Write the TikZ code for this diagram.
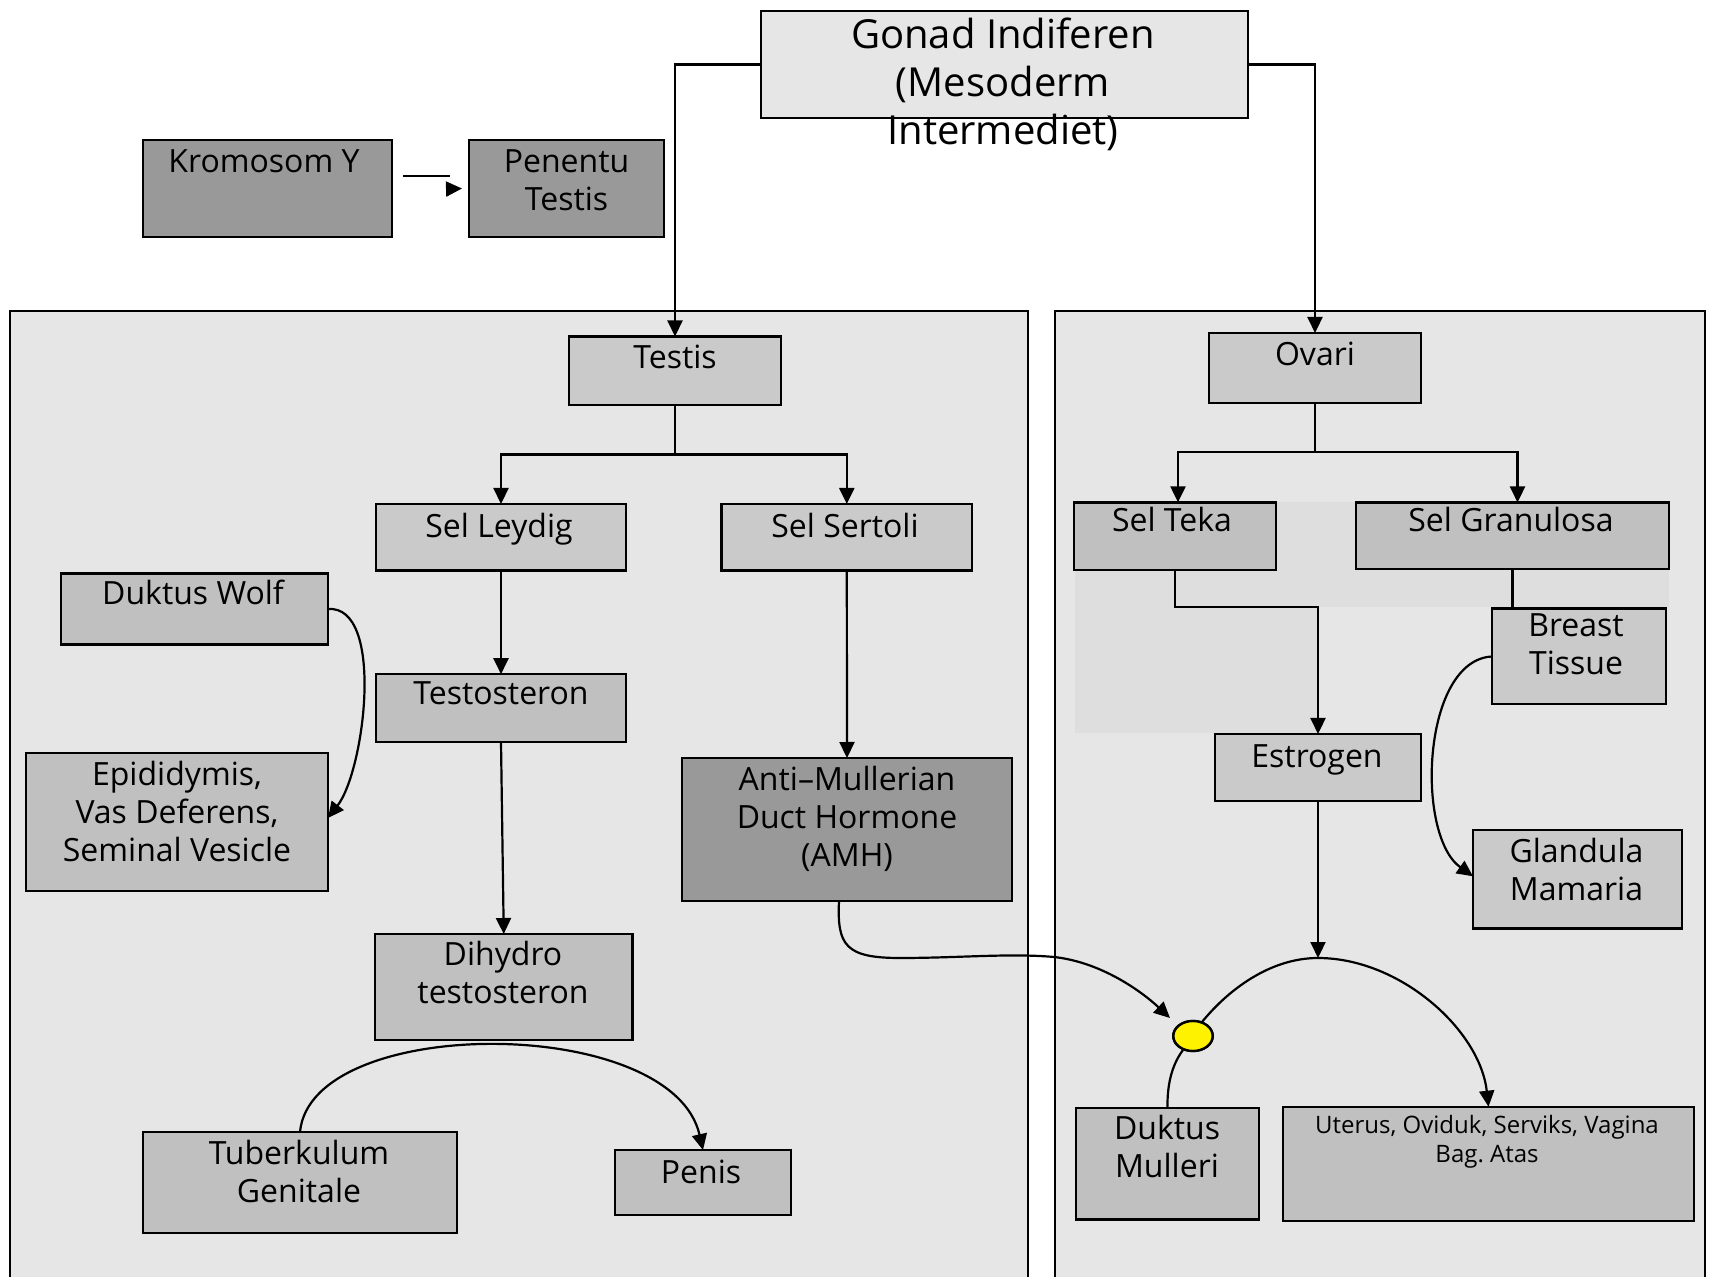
\documentclass[tikz,border=0pt]{standalone}
\usepackage{fontspec}
\setmainfont{Open Sans}
\usetikzlibrary{arrows.meta,shapes.geometric}
\definecolor{panelgray}{HTML}{E6E6E6}
\definecolor{zonegray}{HTML}{DEDEDE}
\definecolor{boxdark}{HTML}{999999}
\definecolor{boxlight}{HTML}{CACACA}
\definecolor{boxmid}{HTML}{C0C0C0}
\begin{document}
\frenchspacing
\begin{tikzpicture}[x=0.5pt,y=-0.5pt,
  conn/.style={draw=black, line width=1.1pt},
  arr/.style={conn, -{Triangle[length=8pt,width=7.5pt]}},
  box/.style={draw=black, line width=1.2pt, rectangle, inner sep=0pt, outer sep=0pt},
  panel/.style={draw=black, line width=1.1pt, fill=panelgray},
  lbl/.style={anchor=north, inner sep=0pt, align=center, font=\fontsize{16}{19}\selectfont},
  biglbl/.style={lbl, font=\fontsize{20}{24}\selectfont},
  smalllbl/.style={lbl, font=\fontsize{12}{14.5}\selectfont}
]
\useasboundingbox (0,0) rectangle (1713,1277);
\clip (0,0) rectangle (1713,1277);
\fill[white] (0,0) rectangle (1713,1277);

% the two development panels
\draw[panel] (10,311) rectangle (1028,1300);
\draw[panel] (1055,311) rectangle (1705,1300);
% cell zone behind the ovarian cells
\fill[zonegray] (1075,502) rectangle (1669,607);
\fill[zonegray] (1075,607) rectangle (1318,733);

% boxes
\node[box, fill=panelgray, minimum width=243.5pt, minimum height=53.5pt] (gonad) at (1004.5,64.5) {};
\node[box, fill=boxdark, minimum width=124.5pt, minimum height=48.5pt] (krom) at (267.5,188.5) {};
\node[box, fill=boxdark, minimum width=97.5pt, minimum height=48.5pt] (pen) at (566.5,188.5) {};

\node[box, fill=boxlight, minimum width=106pt, minimum height=34.25pt] (testis) at (675,370.75) {};
\node[box, fill=boxlight, minimum width=125pt, minimum height=33.3pt] (leydig) at (501,537.3) {};
\node[box, fill=boxlight, minimum width=125.2pt, minimum height=33.3pt] (sertoli) at (846.8,537.3) {};
\node[box, fill=boxmid, minimum width=125pt, minimum height=34pt] (testos) at (501,708.2) {};
\node[box, fill=boxmid, minimum width=128.75pt, minimum height=53pt] (dihydro) at (503.75,987) {};
\node[box, fill=boxdark, minimum width=165pt, minimum height=71.5pt] (amh) at (847,829.5) {};
\node[box, fill=boxmid, minimum width=133.5pt, minimum height=35.5pt] (wolf) at (194.5,609) {};
\node[box, fill=boxmid, minimum width=151pt, minimum height=69.25pt] (epid) at (177,822) {};
\node[box, fill=boxmid, minimum width=157pt, minimum height=50.5pt] (tuberk) at (300,1182.5) {};
\node[box, fill=boxmid, minimum width=88pt, minimum height=32.5pt] (penis) at (703,1182.5) {};

\node[box, fill=boxlight, minimum width=106pt, minimum height=35pt] (ovari) at (1315,368) {};
\node[box, fill=boxmid, minimum width=101pt, minimum height=33.85pt] (teka) at (1175,536.2) {};
\node[box, fill=boxmid, minimum width=156.5pt, minimum height=33.25pt] (gran) at (1512.5,535.75) {};
\node[box, fill=boxlight, minimum width=87pt, minimum height=47.8pt] (breast) at (1579,656.5) {};
\node[box, fill=boxlight, minimum width=103pt, minimum height=33.5pt] (estrogen) at (1318,767.5) {};
\node[box, fill=boxlight, minimum width=104.5pt, minimum height=49.3pt] (glandula) at (1577.5,879.3) {};
\node[box, fill=boxmid, minimum width=91.5pt, minimum height=55.8pt] (mulleri) at (1167.5,1163.5) {};
\node[box, fill=boxmid, minimum width=205.5pt, minimum height=57pt] (uterus) at (1488.5,1163.7) {};

\node[draw=black, line width=1.2pt, fill=yellow, ellipse, inner sep=0pt,
      minimum width=19.7pt, minimum height=15pt] (junc) at (1193,1036) {};

% connectors
\draw[arr] (gonad.west) -| (testis.north);
\draw[arr] (gonad.east) -| (ovari.north);

\draw[conn] ([shift={(11,-12.5)}]krom.east) -- ++(47,0);
\draw[arr] ([shift={(-22,0.5)}]pen.west) -- ([xshift=-3.5pt]pen.west);

\coordinate (tbar) at (675,454.5);
\draw[conn] (testis.south) -- (tbar);
\draw[arr] (tbar) -| (leydig.north);
\draw[arr] (tbar) -| (sertoli.north);
\draw[arr] (leydig.south) -- (testos.north);
\draw[arr] (testos.south) -- (dihydro.north);
\draw[arr] (sertoli.south) -- (amh.north);
\draw[arr] (wolf.east) .. controls (385,605) and (365,770) .. ([yshift=2pt]epid.east);
\draw[arr] (tuberk.north) .. controls (311,1014) and (672,1014) .. (penis.north);
\draw[arr] ([xshift=-4pt]amh.south) .. controls (837,945) and (845,958) .. (900,958)
      .. controls (960,958) and (1010,953) .. (1054,957)
      .. controls (1100,962) and (1140,990) .. ([shift={(-23,-18)}]junc.center);

\coordinate (obar) at (1315,452);
\draw[conn] (ovari.south) -- (obar);
\draw[arr] (obar) -| ([xshift=1.5pt]teka.north);
\draw[arr] (obar) -| ([xshift=2.5pt]gran.north);
\draw[conn] (gran.south) -- (gran.south |- breast.north);
\coordinate (tekaturn) at (1175,607);
\draw[arr] (teka.south) -- (tekaturn) -| (estrogen.north);
\draw[arr] (breast.west) .. controls (1422,660) and (1415,835) .. ([yshift=1.5pt]glandula.west);

\coordinate (epeak) at (1319,958);
\draw[arr] (estrogen.south) -- (estrogen.south |- epeak);
\draw[arr] ([shift={(9,-14)}]junc.center) .. controls (1228,990) and (1270,958) .. (estrogen.south |- epeak)
      .. controls (1400,958) and (1480,1030) .. (uterus.north);
\draw[conn] (mulleri.north) .. controls (1167,1080) and (1174,1062) .. ([shift={(-10,14)}]junc.center);
\node[draw=black, line width=1.2pt, fill=yellow, ellipse, inner sep=0pt,
      minimum width=19.7pt, minimum height=15pt] (junctop) at (junc.center) {};

% labels
\node[biglbl] (gonad-t) at (1003,14.7) {\strut Gonad Indiferen\\(Mesoderm\\Intermediet)};
\node[lbl] (krom-t) at (264,145.8) {\strut Kromosom Y};
\node[lbl] (pen-t) at (566.5,145.8) {\strut Penentu\\Testis};
\node[lbl] (testis-t) at (675,341.8) {\strut Testis};
\node[lbl] (leydig-t) at (499,510.6) {\strut Sel Leydig};
\node[lbl] (sertoli-t) at (845,510.6) {\strut Sel Sertoli};
\node[lbl] (testos-t) at (501,677.8) {\strut Testosteron};
\node[lbl] (dihydro-t) at (503,938.8) {\strut Dihydro\\testosteron};
\node[lbl] (amh-t) at (847,763.8) {\strut Anti--Mullerian\\Duct Hormone\\(AMH)};
\node[lbl] (wolf-t) at (193,577.8) {\strut Duktus Wolf};
\node[lbl] (epid-t) at (177,758.3) {\strut Epididymis,\\Vas Deferens,\\Seminal Vesicle};
\node[lbl] (tuberk-t) at (299,1137.8) {\strut Tuberkulum\\Genitale};
\node[lbl] (penis-t) at (701,1156.5) {\strut Penis};
\node[lbl] (ovari-t) at (1315,338.8) {\strut Ovari};
\node[lbl] (teka-t) at (1172,504.8) {\strut Sel Teka};
\node[lbl] (gran-t) at (1511,504.8) {\strut Sel Granulosa};
\node[lbl] (breast-t) at (1576,609.8) {\strut Breast\\Tissue};
\node[lbl] (estrogen-t) at (1317,740.8) {\strut Estrogen};
\node[lbl] (glandula-t) at (1576.5,835.8) {\strut Glandula\\Mamaria};
\node[lbl] (mulleri-t) at (1167,1112.5) {\strut Duktus\\Mulleri};
\node[smalllbl] (uterus-t) at (1487,1112.3) {\strut Uterus, Oviduk, Serviks, Vagina\\Bag. Atas};
\end{tikzpicture}
\end{document}
